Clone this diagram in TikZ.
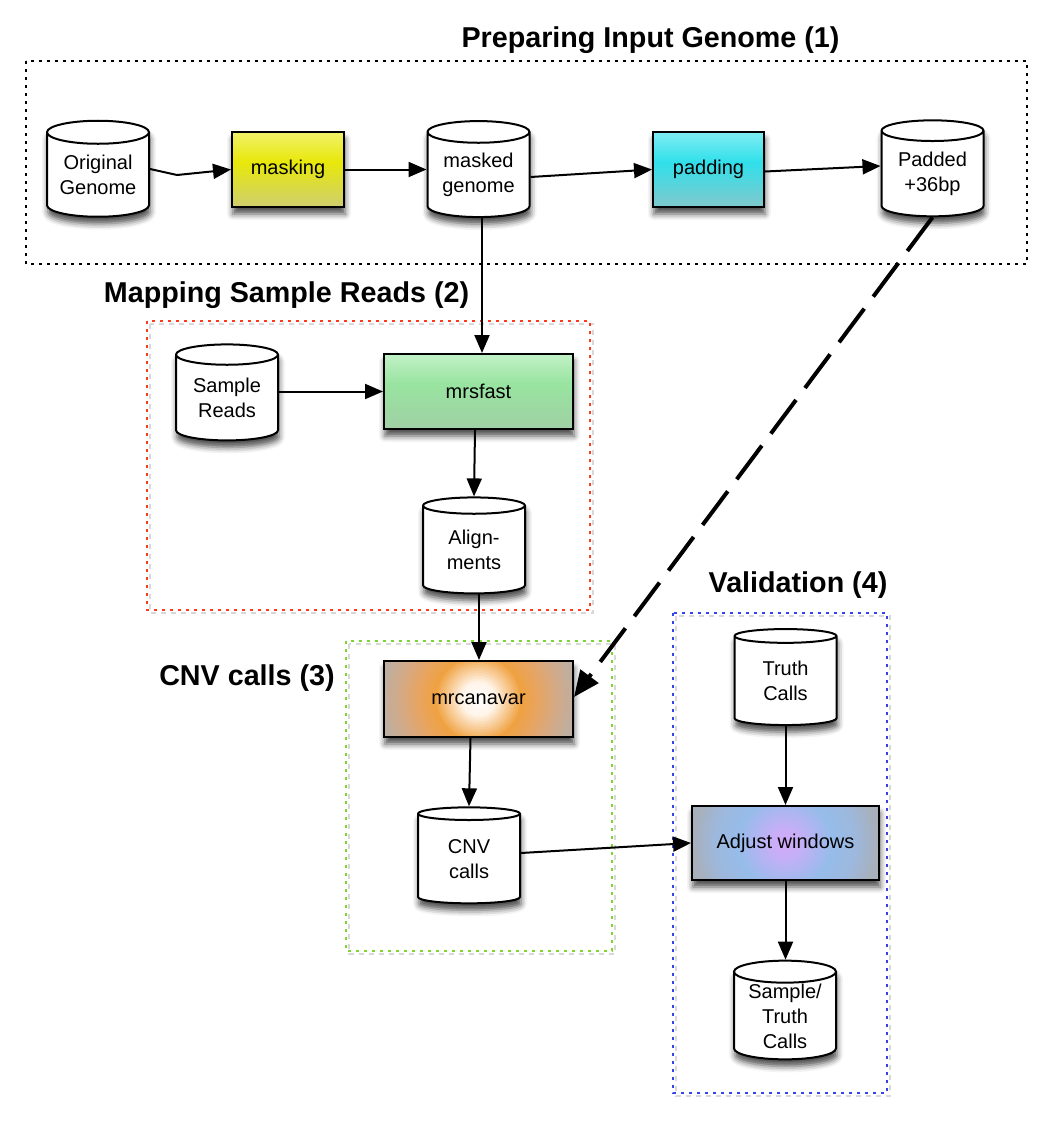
\documentclass[tikz,border=0pt]{standalone}
\usepackage{fontspec}
\setmainfont{Liberation Sans}
\usetikzlibrary{shapes.geometric, arrows.meta, shadows.blur}

\definecolor{grpred}{HTML}{FF3A1A}
\definecolor{grpgreen}{HTML}{7ED62A}
\definecolor{grpblue}{HTML}{3344EE}
\definecolor{grpshadow}{HTML}{D8D8D8}

% radial colour stops for mrcanavar
\definecolor{caA}{RGB}{255,255,255}
\definecolor{caB}{RGB}{255,244,232}
\definecolor{caC}{RGB}{240,162,66}
\definecolor{caD}{RGB}{232,164,96}
\definecolor{caE}{RGB}{210,170,136}
\definecolor{caF}{RGB}{192,174,158}
\definecolor{caG}{RGB}{184,176,168}
% radial colour stops for Adjust windows
\definecolor{adA}{RGB}{212,168,250}
\definecolor{adB}{RGB}{196,176,246}
\definecolor{adC}{RGB}{150,188,234}
\definecolor{adD}{RGB}{158,184,220}
\definecolor{adE}{RGB}{168,176,188}
\definecolor{adF}{RGB}{168,176,184}

\pgfdeclareverticalshading{maskshade}{100bp}{color(0bp)=(rgb,255:red,176;green,176;blue,160); color(25bp)=(rgb,255:red,206;green,206;blue,112); color(55bp)=(rgb,255:red,232;green,232;blue,10); color(78bp)=(rgb,255:red,242;green,242;blue,120); color(100bp)=(rgb,255:red,252;green,252;blue,236)}
\pgfdeclareverticalshading{padshade}{100bp}{color(0bp)=(rgb,255:red,160;green,176;blue,176); color(25bp)=(rgb,255:red,128;green,200;blue,204); color(55bp)=(rgb,255:red,48;green,224;blue,234); color(78bp)=(rgb,255:red,140;green,238;blue,244); color(100bp)=(rgb,255:red,236;green,252;blue,252)}
\pgfdeclareverticalshading{fastshade}{100bp}{color(0bp)=(rgb,255:red,168;green,188;blue,168); color(25bp)=(rgb,255:red,160;green,208;blue,164); color(55bp)=(rgb,255:red,152;green,228;blue,160); color(78bp)=(rgb,255:red,200;green,242;blue,204); color(100bp)=(white)}

% stepped radial fill: list of outer-radius/inner-radius/outer-colour/inner-colour
\newcommand{\myradsteps}[1]{%
  \foreach \ra/\rb/\ca/\cb in {#1} {%
    \foreach \t in {0,1,...,10} {%
      \pgfmathsetmacro\rr{\ra-(\ra-\rb)*\t/10}%
      \pgfmathtruncatemacro\pp{\t*10}%
      \fill[fill=\cb!\pp!\ca] (path picture bounding box.center) circle (\rr pt);
    }%
  }%
}

\tikzset{
  shadowed/.style={blur shadow={shadow xshift=1pt, shadow yshift=-7pt, shadow blur radius=6pt, shadow opacity=70}},
  proc/.style={rectangle, draw=black, line width=2pt, font=\fontsize{20}{24}\selectfont, inner sep=0pt, shadowed},
  vshade/.style={shade, shading=#1},
  canafill/.style={fill=caG, path picture={\myradsteps{110/95/caG/caF, 95/80/caF/caE, 80/60/caE/caD, 60/44/caD/caC, 44/18/caC/caB, 18/1/caB/caA}}},
  adjfill/.style={fill=adF, path picture={\myradsteps{110/92/adF/adE, 92/72/adE/adD, 72/48/adD/adC, 48/18/adC/adB, 18/1/adB/adA}}},
  db/.style={cylinder, shape border rotate=90, aspect=0.3, draw=black, line width=2pt, fill=white,
    minimum width=102pt, minimum height=96pt, inner sep=0pt, align=center,
    font=\fontsize{20}{25}\selectfont, shadowed},
  conn/.style={line width=2pt, -{Triangle[length=18pt,width=15pt]}},
  bigconn/.style={line width=4pt, dash pattern=on 42pt off 15pt, -{Triangle[length=26pt,width=22pt]}},
  grpbox/.style={line width=2pt, dash pattern=on 3pt off 5pt},
  grpshad/.style={line width=2pt, dash pattern=on 5pt off 5pt, draw=grpshadow},
  grptitle/.style={font=\fontsize{28.7}{32}\selectfont\bfseries, inner sep=0pt}
}

\begin{document}
\begin{tikzpicture}[x=1pt, y=-1pt]
\useasboundingbox (0,0) rectangle (1049,1124);

% group boxes
\draw[grpbox, draw=black] (26,61) rectangle (1027,264);
\draw[grpshad] (150,324) rectangle (593,613);
\draw[grpbox, draw=grpred] (147,321) rectangle (590,610);
\draw[grpshad] (349,644) rectangle (615,954);
\draw[grpbox, draw=grpgreen] (346,641) rectangle (612,951);
\draw[grpshad] (676,616) rectangle (890,1096);
\draw[grpbox, draw=grpblue] (673,613) rectangle (887,1093);

% titles
\node[grptitle] (t1) at (650.5,40) {Preparing Input Genome (1)};
\node[grptitle] (t2) at (286.5,295) {Mapping Sample Reads (2)};
\node[grptitle] (t3) at (247,678) {CNV calls (3)};
\node[grptitle] (t4) at (798,585) {Validation (4)};

% stage 1
\node[db] (og) at (98,175) {Original\\Genome};
\node[proc, vshade=maskshade, minimum width=112pt, minimum height=75pt] (mask) at (288,169.5) {masking};
\node[db] (mg) at (478.5,175) {masked\\genome};
\node[proc, vshade=padshade, minimum width=111pt, minimum height=75pt] (pad) at (708.5,169.5) {padding};
\node[db] (pg) at (932.5,174) {Padded\\+36bp};

% stage 2
\node[db] (sr) at (227,398) {Sample\\Reads};
\node[proc, vshade=fastshade, minimum width=189pt, minimum height=75pt] (fast) at (478.5,391.5) {mrsfast};
\node[db] (al) at (474,550) {Align-\\ments};

% stage 3
\node[proc, canafill, minimum width=189pt, minimum height=76pt] (cana) at (478.5,699) {mrcanavar};
\node[db] (cnv) at (469,859) {CNV\\calls};

% stage 4
\node[db] (tc) at (785.5,681) {Truth\\Calls};
\node[proc, adjfill, minimum width=187pt, minimum height=74pt] (adj) at (785.5,843) {Adjust windows};
\node[db] (st) at (785,1016) {Sample/\\Truth\\Calls};

% connectors
\coordinate (bend1) at (177,175);
\draw[line width=2pt] ([yshift=6pt]og.east) -- (bend1);
\draw[conn] (bend1) -- (mask.west);
\draw[conn] (mask.east) -- (mask.east -| mg.west);
\draw[conn] ([yshift=-2pt]mg.east) -- (pad.west);
\draw[conn] ([yshift=-2pt]pad.east) -- ([yshift=8pt]pg.west);
\draw[conn] ([xshift=3.5pt]mg.south) -- ([xshift=3.5pt]mg.south |- fast.north);
\draw[conn] (sr.east |- fast.west) -- (fast.west);
\draw[conn] ([xshift=-3.5pt]fast.south) -- (al.north);
\draw[conn] ([xshift=5pt]al.south) -- ([xshift=5pt]al.south |- cana.north);
\draw[conn] ([xshift=-8pt]cana.south) -- (cnv.north);
\draw[conn] ([yshift=6pt]cnv.east) -- (adj.west);
\draw[conn] (tc.south) -- (tc.south |- adj.north);
\draw[conn] (adj.south) -- (adj.south |- st.north);
\draw[bigconn] (pg.south) -- ([yshift=2pt]cana.east);
\end{tikzpicture}
\end{document}
